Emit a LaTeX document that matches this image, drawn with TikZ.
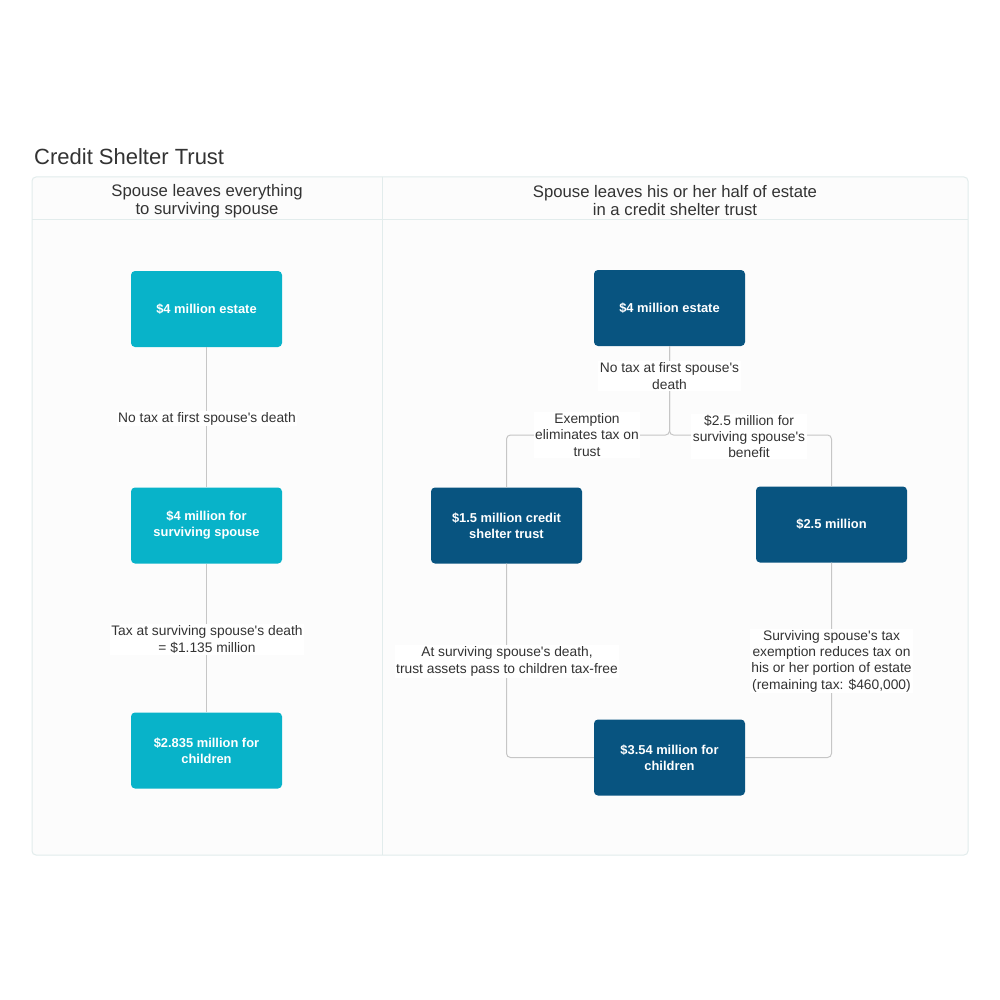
\documentclass[tikz,border=0pt]{standalone}
\usepackage{fontspec}
\setmainfont{Liberation Sans}[Ligatures=TeXOff]
\definecolor{cyanbox}{HTML}{08B3C9}
\definecolor{darkbox}{HTML}{085480}
\definecolor{txt}{HTML}{333333}
\definecolor{pborder}{HTML}{E2ECEC}
\definecolor{pfill}{HTML}{FCFCFC}
\definecolor{conncol}{HTML}{C6C6C6}
\tikzset{
  box/.style={rectangle, rounded corners=4pt, minimum width=151pt, minimum height=76pt,
    inner sep=0pt, text=white, align=center, font=\bfseries\fontsize{12.9}{16}\selectfont},
  cbox/.style={box, fill=cyanbox},
  dbox/.style={box, fill=darkbox},
  conn/.style={draw=conncol, line width=1pt, rounded corners=4pt},
  lbl/.style={fill=white, text=txt, align=center, inner sep=1.5pt, font=\fontsize{13.8}{16.3}\selectfont},
  hdr/.style={text=txt, align=center, inner sep=0pt, font=\fontsize{16.7}{18}\selectfont}
}
\begin{document}
\begin{tikzpicture}[x=1pt,y=-1pt]
\useasboundingbox (0,0) rectangle (1000,1000);
\fill[white] (0,0) rectangle (1000,1000);
\node[anchor=base west, inner sep=0pt, text=txt, font=\fontsize{22}{26}\selectfont] (title) at (34,165) {Credit Shelter Trust};
% panel
\draw[pborder, fill=pfill, line width=1pt, rounded corners=4pt] (32,177) rectangle (968,855);
\draw[pborder, line width=1pt] (32,220) -- (968,220);
\draw[pborder, line width=1pt] (382,177) -- (382,855);
\node[hdr] (h1) at (207,201) {Spouse leaves everything\\to surviving spouse};
\node[hdr] (h2) at (675,201) {Spouse leaves his or her half of estate\\in a credit shelter trust};
% left column
\node[cbox] (a1) at (206.5,309) {\$4 million estate};
\node[cbox] (a2) at (206.5,525.5) {\$4 million for\\surviving spouse};
\node[cbox] (a3) at (206.5,750.5) {\$2.835 million for\\children};
\draw[conn] (a1.south) -- (a2.north);
\draw[conn] (a2.south) -- (a3.north);
\node[lbl] (la1) at (207,418.5) {No tax at first spouse's death};
\node[lbl] (la2) at (207,639.5) {Tax at surviving spouse's death\\= \$1.135 million};
% right column
\node[dbox] (b1) at (669.5,308) {\$4 million estate};
\node[dbox] (b2) at (506.5,525.5) {\$1.5 million credit\\shelter trust};
\node[dbox] (b3) at (831.5,524.5) {\$2.5 million};
\node[dbox] (b4) at (669.5,757.5) {\$3.54 million for\\children};
\coordinate (split) at (669.5,435);
\draw[conn] (b1.south) -- (split) -| (b2.north);
\draw[conn] (b1.south) -- (split) -| (b3.north);
\draw[conn] (b2.south) |- (b4.west);
\draw[conn] (b3.south) |- (b4.east);
\node[lbl] (lb1) at (669.5,376) {No tax at first spouse's\\death};
\node[lbl] (lb2) at (587,435) {Exemption\\eliminates tax on\\trust};
\node[lbl] (lb3) at (749,436.5) {\$2.5 million for\\surviving spouse's\\benefit};
\node[lbl] (lb4) at (507,661.5) {At surviving spouse's death,\\trust assets pass to children tax-free};
\node[lbl] (lb5) at (831.5,661) {Surviving spouse's tax\\exemption reduces tax on\\his or her portion of estate\\(remaining tax: \$460,000)};
\end{tikzpicture}
\end{document}
